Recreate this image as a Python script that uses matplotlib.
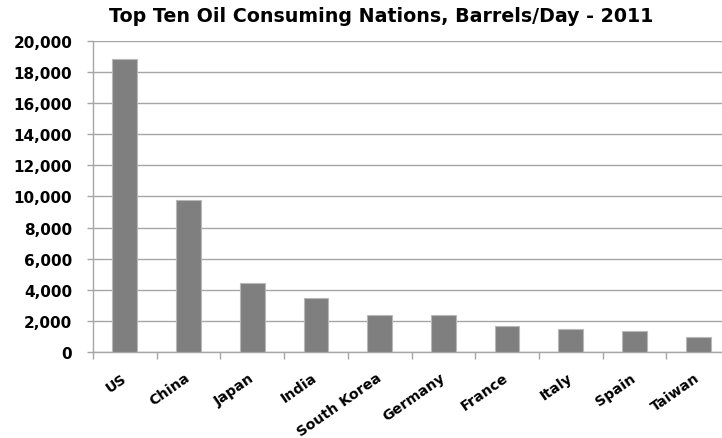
import matplotlib
matplotlib.use("Agg")
import matplotlib.pyplot as plt
from matplotlib.ticker import FuncFormatter, FixedLocator
import numpy as np

countries = ["US", "China", "Japan", "India", "South Korea",
             "Germany", "France", "Italy", "Spain", "Taiwan"]
barrels_per_day = [18840, 9760, 4420, 3470, 2400, 2380, 1710, 1480, 1390, 965]
y_ticks = list(range(0, 20001, 2000))

plt.rcParams["font.family"] = ["DejaVu Sans"]

fig = plt.figure(figsize=(7.22, 4.39), dpi=100)
ax = fig.add_axes([93 / 722, 1 - 353.3 / 439, 637 / 722, (353.3 - 41.6) / 439])

x = np.arange(len(countries))
ax.bar(x, barrels_per_day, width=0.39, color="#7f7f7f",
       edgecolor="#b8b8b8", linewidth=0.8, zorder=3)

ax.set_xlim(-0.5, len(countries) - 0.5)
ax.set_ylim(0, 20000)
ax.set_yticks(y_ticks)
ax.yaxis.set_major_formatter(FuncFormatter(lambda v, p: f"{int(v):,}"))
ax.grid(axis="y", color="#a6a6a6", linewidth=1.0, zorder=0)
ax.set_axisbelow(True)

ax.set_xticks(x)
ax.set_xticklabels(countries, rotation=35, ha="right", va="center",
                   rotation_mode="anchor", fontsize=10.3, fontweight="bold")
ax.xaxis.set_minor_locator(FixedLocator(np.arange(-0.5, len(countries), 1.0)))
ax.tick_params(axis="x", which="major", length=0, pad=17)
ax.tick_params(axis="x", which="minor", length=5, color="#a6a6a6", width=1)
ax.tick_params(axis="y", length=4, color="#a6a6a6", width=1, pad=11)
for lbl in ax.get_yticklabels():
    lbl.set_fontweight("bold")
    lbl.set_fontsize(11)

for side in ("top", "right"):
    ax.spines[side].set_visible(False)
for side in ("left", "bottom"):
    ax.spines[side].set_color("#a6a6a6")
    ax.spines[side].set_linewidth(1)

fig.text(381 / 722, 1 - 22 / 439, "Top Ten Oil Consuming Nations, Barrels/Day - 2011",
         ha="center", va="baseline", fontsize=13.7, fontweight="bold")

fig.savefig("out.png", dpi=100)
